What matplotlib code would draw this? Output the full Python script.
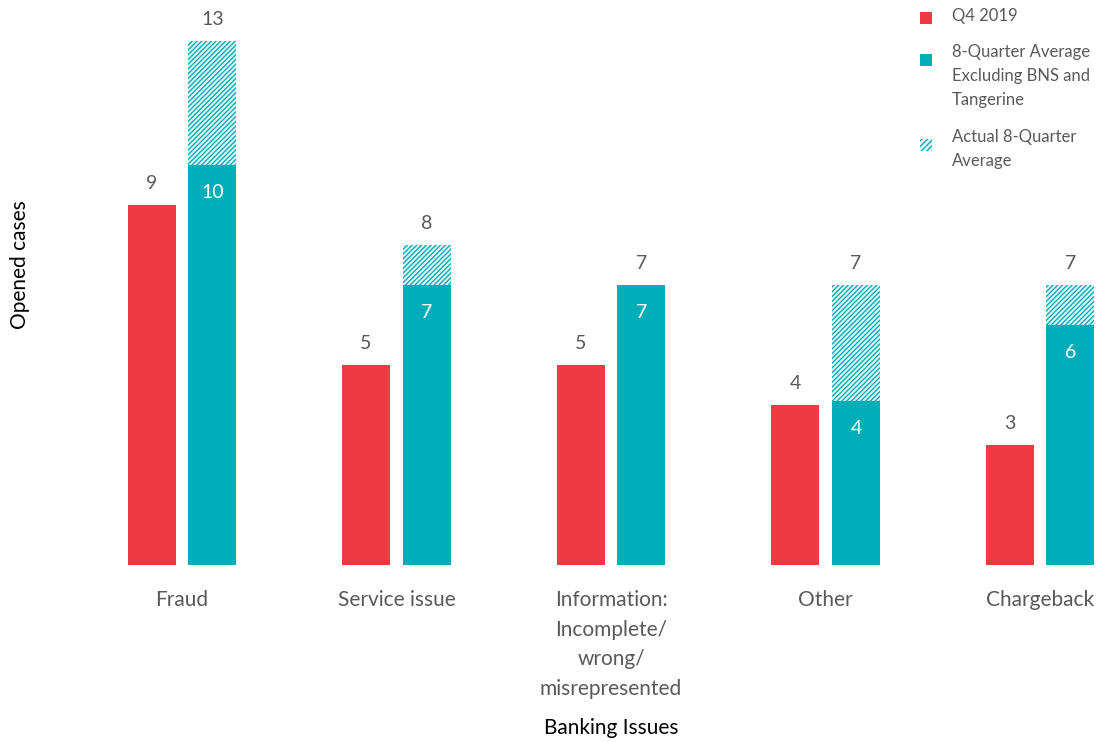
import matplotlib.pyplot as plt
from matplotlib.patches import Rectangle

plt.rcParams['font.family'] = ['Lato', 'DejaVu Sans']
plt.rcParams['hatch.linewidth'] = 1.0

# data
categories = ['Fraud', 'Service issue', 'Information:\nIncomplete/\nwrong/\nmisrepresented',
              'Other', 'Chargeback']
q4_2019 = [9, 5, 5, 4, 3]
avg_excl = [10, 7, 7, 4.1, 6]
avg_actual = [13.1, 8, 7, 7, 7]

RED = '#EE3A40'
TEAL = '#00AEB9'
GREY = '#595959'

W, H = 1101, 742
fig = plt.figure(figsize=(W / 100, H / 100), dpi=100)
ax = fig.add_axes([100 / W, 177 / H, 1000 / W, 545 / H])

x = list(range(len(categories)))
bw = 0.224
off = 0.142

ax.bar([i - off for i in x], q4_2019, bw, color=RED)
ax.bar([i + off for i in x], avg_excl, bw, color=TEAL)
extra = [a - b for a, b in zip(avg_actual, avg_excl)]
ax.bar([i + off for i in x], extra, bw, bottom=avg_excl, facecolor='#E6F7F8',
       edgecolor=TEAL, hatch='///////', linewidth=0)

for i in x:
    ax.text(i - off, q4_2019[i] + 0.33, f'{round(q4_2019[i])}', ha='center', va='bottom',
            fontsize=14, color=GREY)
    ax.text(i + off, avg_actual[i] + 0.33, f'{round(avg_actual[i])}', ha='center',
            va='bottom', fontsize=14, color=GREY)
    ax.text(i + off, avg_excl[i] - 0.68, f'{round(avg_excl[i])}', ha='center',
            va='center', fontsize=14, color='white')

ax.set_xlim((100 - 182) / 214.5, (1100 - 182) / 214.5)
ax.set_ylim(0, 545 / 40)
ax.set_xticks(x)
ax.set_xticklabels(categories, fontsize=15, color=GREY, linespacing=1.6)
ax.tick_params(axis='x', length=0, pad=18)
ax.set_yticks([])
for s in ax.spines.values():
    s.set_visible(False)

fig.text(20 / W, 1 - 265 / H, 'Opened cases', rotation=90, ha='center', va='center',
         fontsize=15, color='black')
fig.text(611 / W, 1 - 728 / H, 'Banking Issues', ha='center', va='center',
         fontsize=15, color='black')

# legend
legend_items = [
    (RED, None, 18, 'Q4 2019'),
    (TEAL, None, 60, '8-Quarter Average\nExcluding BNS and\nTangerine'),
    ('#E6F7F8', '//////', 145, 'Actual 8-Quarter\nAverage'),
]
text_tops = [8, 44, 129]
for (color, hatch, py, label), ty in zip(legend_items, text_tops):
    rect = Rectangle((920 / W, 1 - (py + 6) / H), 12 / W, 12 / H, transform=fig.transFigure,
                     facecolor=color, edgecolor=TEAL if hatch else color, hatch=hatch,
                     linewidth=0)
    fig.patches.append(rect)
    fig.text(952 / W, 1 - ty / H, label, ha='left', va='top', fontsize=12,
             color=GREY, linespacing=1.6)

fig.savefig('out.png', dpi=100)
